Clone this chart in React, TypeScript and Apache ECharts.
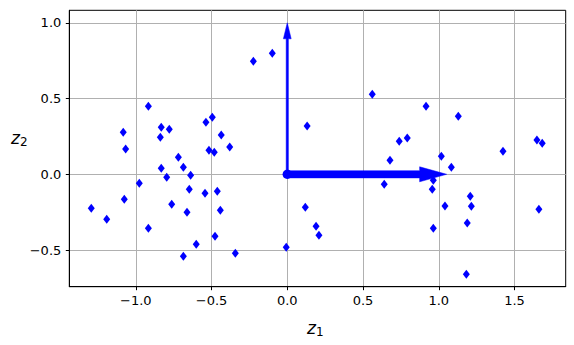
import React, { useEffect, useRef } from "react";
import * as echarts from "echarts";

// Projected points (z1, z2)
const z1Values: number[] = [
  -0.224, -0.099, -0.917, -1.083, -0.832, -0.779, -0.838, -0.537, -0.495, -0.436,
  0.131, -1.067, -0.38, -0.517, -0.482, -0.832, -0.719, -0.686, -0.638, -0.796,
  -0.977, -0.647, -0.462, -0.543, -1.076, -0.763, -1.294, -0.442, -0.662, -1.192,
  -0.917, -0.477, -0.601, -0.007, -0.343, -0.686, 0.119, 0.19, 0.209,
  0.561, 0.916, 1.129, 0.739, 0.792, 1.648, 1.683, 1.424, 0.678, 1.017,
  1.083, 0.64, 0.964, 0.957, 1.208, 1.215, 1.041, 1.661, 1.188, 0.964, 1.182,
];
const z2Values: number[] = [
  0.746, 0.799, 0.449, 0.277, 0.31, 0.297, 0.244, 0.343, 0.376, 0.259,
  0.318, 0.167, 0.18, 0.158, 0.145, 0.04, 0.112, 0.046, -0.007, -0.02,
  -0.059, -0.099, -0.112, -0.125, -0.165, -0.198, -0.224, -0.238, -0.251, -0.297,
  -0.356, -0.409, -0.462, -0.482, -0.521, -0.541, -0.218, -0.343, -0.403,
  0.528, 0.449, 0.383, 0.218, 0.24, 0.226, 0.205, 0.152, 0.092, 0.119,
  0.046, -0.066, -0.04, -0.099, -0.145, -0.211, -0.209, -0.231, -0.321, -0.356, -0.66,
];

// Arrows: [startX, startY, tipX, tipY]
const arrowVectors: number[][] = [
  [0, 0, 1.052, 0],
  [0, 0, 0, 1.0],
];
const origin: number[][] = [[0, 0]];

const xTicks: number[] = [-1.0, -0.5, 0.0, 0.5, 1.0, 1.5];
const yTicks: number[] = [-0.5, 0.0, 0.5, 1.0];
const xRange: number[] = [-1.439, 1.838];
const yRange: number[] = [-0.742, 1.0825];

// arrow drawing styles (pixels): shaft half width, head half width, head length
const arrowShapes = [
  { shaft: 3.6, head: 7.5, headLen: 27 },
  { shaft: 1.1, head: 3.9, headLen: 16 },
];

const BLUE = "#0000ff";
const FONT = "DejaVu Sans";

const fmt = (v: number) => v.toFixed(1).replace("-", "\u2212");

export default function App() {
  const ref = useRef<HTMLDivElement>(null);
  useEffect(() => {
    if (!ref.current) return;
    const chart = echarts.init(ref.current, null, { renderer: "svg" });
    const points = z1Values.map((x, i) => [x, z2Values[i]]);
    const axisCommon = {
      axisLine: { show: true, onZero: false, lineStyle: { color: "#000", width: 1 } },
      axisTick: { show: true, length: 3.5, lineStyle: { color: "#000", width: 1 } },
      splitLine: { show: true, lineStyle: { color: "#b0b0b0", width: 1 } },
    };
    chart.setOption({
      animation: false,
      grid: {
        left: 69.3,
        right: 8.3,
        top: 10.3,
        bottom: 58.3,
        show: true,
        borderColor: "#000",
        borderWidth: 1,
        backgroundColor: "transparent",
      },
      xAxis: {
        type: "value",
        min: xRange[0],
        max: xRange[1],
        ...axisCommon,
        axisTick: { ...axisCommon.axisTick, customValues: xTicks },
        axisLabel: {
          customValues: xTicks,
          formatter: fmt,
          fontFamily: FONT,
          fontSize: 13,
          color: "#000",
          margin: 7,
        },
      },
      yAxis: {
        type: "value",
        min: yRange[0],
        max: yRange[1],
        ...axisCommon,
        axisTick: { ...axisCommon.axisTick, customValues: yTicks },
        axisLabel: {
          customValues: yTicks,
          formatter: fmt,
          fontFamily: FONT,
          fontSize: 13,
          color: "#000",
          margin: 8,
        },
      },
      graphic: [
        {
          type: "text",
          x: 307,
          y: 318,
          style: {
            text: "{z|z}{s|1}",
            rich: {
              z: { fontFamily: FONT, fontStyle: "italic", fontSize: 17, fill: "#000" },
              s: { fontFamily: FONT, fontSize: 12, fill: "#000", padding: [8, 0, 0, 0] },
            },
          },
        },
        {
          type: "text",
          x: 11,
          y: 128,
          style: {
            text: "{z|z}{s|2}",
            rich: {
              z: { fontFamily: FONT, fontStyle: "italic", fontSize: 17, fill: "#000" },
              s: { fontFamily: FONT, fontSize: 12, fill: "#000", padding: [8, 0, 0, 0] },
            },
          },
        },
      ],
      series: [
        {
          type: "scatter",
          data: points,
          symbol: "diamond",
          symbolSize: [7, 9],
          itemStyle: { color: BLUE, opacity: 1 },
          z: 2,
        },
        {
          type: "custom",
          data: arrowVectors,
          z: 3,
          renderItem: (params: any, api: any) => {
            const s = arrowShapes[params.dataIndex];
            const p0 = api.coord([api.value(0), api.value(1)]);
            const p1 = api.coord([api.value(2), api.value(3)]);
            const dx = p1[0] - p0[0];
            const dy = p1[1] - p0[1];
            const len = Math.sqrt(dx * dx + dy * dy);
            const ux = dx / len;
            const uy = dy / len;
            const nx = -uy;
            const ny = ux;
            const bx = p1[0] - ux * s.headLen;
            const by = p1[1] - uy * s.headLen;
            const pts = [
              [p0[0] + nx * s.shaft, p0[1] + ny * s.shaft],
              [bx + nx * s.shaft, by + ny * s.shaft],
              [bx + nx * s.head, by + ny * s.head],
              [p1[0], p1[1]],
              [bx - nx * s.head, by - ny * s.head],
              [bx - nx * s.shaft, by - ny * s.shaft],
              [p0[0] - nx * s.shaft, p0[1] - ny * s.shaft],
            ];
            return {
              type: "polygon",
              shape: { points: pts },
              style: { fill: BLUE, stroke: BLUE, lineWidth: 0.5 },
            };
          },
        },
        {
          type: "custom",
          data: origin,
          z: 5,
          renderItem: (params: any, api: any) => {
            const p = api.coord([api.value(0), api.value(1)]);
            return {
              type: "circle",
              shape: { cx: p[0], cy: p[1], r: 4.7 },
              style: { fill: BLUE },
            };
          },
        },
      ],
    });
    return () => chart.dispose();
  }, []);
  return (
    <div
      ref={ref}
      style={{ position: "fixed", left: 0, top: 0, width: 574, height: 345, background: "#fff" }}
    />
  );
}
